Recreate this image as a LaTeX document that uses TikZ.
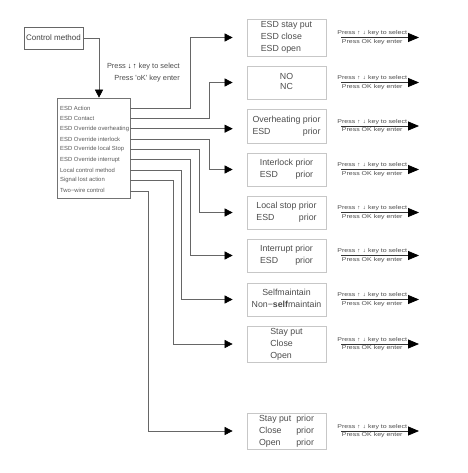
\documentclass[tikz,border=0pt]{standalone}
\usepackage{fontspec}
\setmainfont{Liberation Sans}
\newfontfamily\stretchfont[FakeStretch=1.25]{Liberation Sans}
\usetikzlibrary{arrows.meta}
\newlength\jw
\newcommand\jpair[3]{\settowidth\jw{#1}\begin{tabular}{@{}l@{}}#1\\\makebox[\jw]{#2\hfill#3}\end{tabular}}
\begin{document}
\begin{tikzpicture}[x=1pt,y=-1pt,
  rbox/.style={draw=black!22, line width=0.7pt, minimum width=79pt, inner sep=0pt,
     font=\fontsize{8.8}{12}\selectfont, text=black!70},
  item/.style={anchor=west, font=\fontsize{5.9}{7}\selectfont, text=black!65, inner sep=0pt},
  conn/.style={draw=black!60, line width=0.6pt, -{Triangle[length=8pt,width=8pt,color=black]}, shorten >=14pt},
  rarr/.style={draw=black!80, line width=0.8pt, -{Triangle[length=11pt,width=9pt,color=black]}},
  hint/.style={font=\stretchfont\fontsize{5.6}{6}\selectfont, text=black!70, inner sep=1.3pt, pos=0.4}
]
\useasboundingbox (0,0) rectangle (467,473);

% control method
\node[draw=black!60, line width=0.6pt, minimum width=59pt, minimum height=22pt, inner sep=1pt,
      font=\fontsize{8}{9}\selectfont, text=black!75] (CM) at (53.5,38) {Control method};

% list box
\node[draw=black!55, line width=0.6pt, minimum width=73pt, minimum height=100pt] (LB) at (93.5,148) {};

\draw[draw=black!60, line width=0.6pt, -{Triangle[length=8pt,width=8pt,color=black]}]
  (CM.east) -- (99,0 |- CM.east) -- (99,0 |- LB.north);

\node[anchor=east, font=\fontsize{7.4}{9}\selectfont, text=black!70, inner sep=0pt] (T1) at (180,67)
  {Press {\bfseries\color{black}↓}\,{\bfseries\color{black}↑} key to select};
\node[anchor=east, font=\fontsize{7.4}{9}\selectfont, text=black!70, inner sep=0pt] (T2) at (180,79)
  {Press \textquotesingle oK\textquotesingle\ key enter};

\node[item] (L1) at (60,108) {ESD Action};
\node[item] (L2) at (60,118.35) {ESD Contact};
\node[item] (L3) at (60,128.7) {ESD Override overheating};
\node[item] (L4) at (60,139.05) {ESD Override interlock};
\node[item] (L5) at (60,149.4) {ESD Override local Stop};
\node[item] (L6) at (60,159.75) {ESD Override interrupt};
\node[item] (L7) at (60,170.1) {Local control method};
\node[item] (L8) at (60,180.45) {Signal lost action};
\node[item] (L9) at (60,190.8) {Two−wire control};

% right boxes
\node[rbox, minimum height=37pt] (B1) at (286.5,37.5)
  {\begin{tabular}{@{}l@{}}ESD stay put\\ESD close\\ESD open\end{tabular}};
\node[rbox, minimum height=33pt, font=\fontsize{8.8}{10}\selectfont] (B2) at (286.5,82.5)
  {\begin{tabular}{@{}c@{}}NO\\NC\end{tabular}};
\node[rbox, minimum height=34pt] (B3) at (286.5,126)
  {\jpair{Overheating prior}{ESD}{prior}};
\node[rbox, minimum height=33pt] (B4) at (286.5,169.5)
  {\jpair{Interlock prior}{ESD}{prior}};
\node[rbox, minimum height=33pt] (B5) at (286.5,212.5)
  {\jpair{Local stop prior}{ESD}{prior}};
\node[rbox, minimum height=33pt] (B6) at (286.5,255.5)
  {\jpair{Interrupt prior}{ESD}{prior}};
\node[rbox, minimum height=33pt] (B7) at (286.5,299.5)
  {\begin{tabular}{@{}c@{}}Selfmaintain\\Non−{\bfseries self}maintain\end{tabular}};
\node[rbox, minimum height=36pt] (B8) at (286.5,344)
  {\begin{tabular}{@{}l@{}}Stay put\\Close\\Open\end{tabular}};
\node[rbox, minimum height=36pt] (B9) at (286.5,431)
  {\begin{tabular}{@{}l@{\hspace{5pt}}l@{}}Stay put&prior\\Close&prior\\Open&prior\end{tabular}};

% connectors list -> boxes
\draw[conn] (L1 -| LB.east) -- (190,0 |- L1) -- (190,0 |- B1) -- (B1.west);
\draw[conn] (L2 -| LB.east) -- (209,0 |- L2) -- (209,0 |- B2) -- (B2.west);
\draw[conn] (L3 -| LB.east) -- (L3 -| B3.west);
\draw[conn] (L4 -| LB.east) -- (209,0 |- L4) -- (209,0 |- B4) -- (B4.west);
\draw[conn] (L5 -| LB.east) -- (199,0 |- L5) -- (199,0 |- B5) -- (B5.west);
\draw[conn] (L6 -| LB.east) -- (190.7,0 |- L6) -- (190.7,0 |- B6) -- (B6.west);
\draw[conn] (L7 -| LB.east) -- (181.7,0 |- L7) -- (181.7,0 |- B7) -- (B7.west);
\draw[conn] (L8 -| LB.east) -- (173,0 |- L8) -- (173,0 |- B8) -- (B8.west);
\draw[conn] (L9 -| LB.east) -- (148,0 |- L9) -- (148,0 |- B9) -- (B9.west);

% right arrows
\foreach \b in {B1,B2,B3,B4,B5,B6,B7,B8,B9}{
  \coordinate (\b s) at (341,0 |- \b.east);
  \coordinate (\b e) at (419,0 |- \b.east);
  \draw[rarr] (\b s) -- node[hint, above]{Press ↑ ↓ key to select}
                         node[hint, below]{Press OK key enter} (\b e);
}
\end{tikzpicture}
\end{document}
